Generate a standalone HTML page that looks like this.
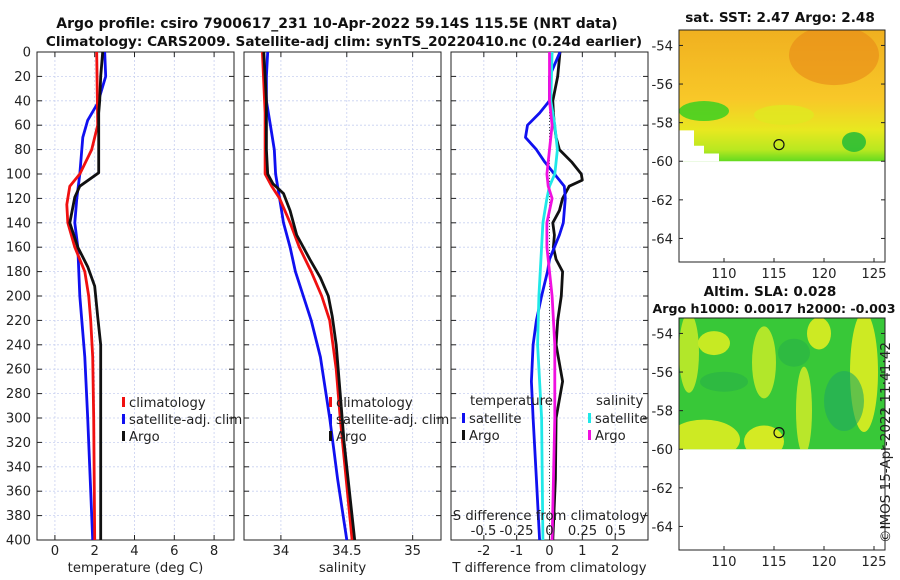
<!DOCTYPE html>
<html><head><meta charset="utf-8"><style>
body{margin:0;background:#fff;}
svg{display:block;font-family:"DejaVu Sans","Liberation Sans",sans-serif;}
.t{font-size:13.2px;fill:#222;}
.b{font-weight:bold;font-size:13.6px;fill:#111;}
</style></head><body>
<svg id="c" width="900" height="580" viewBox="0 0 900 580">
<text class="b" x="337" y="28" text-anchor="middle" style="font-size:14px">Argo profile: csiro 7900617_231 10-Apr-2022 59.14S 115.5E (NRT data)</text>
<text class="b" x="344" y="46" text-anchor="middle">Climatology: CARS2009. Satellite-adj clim: synTS_20220410.nc (0.24d earlier)</text>
<g id="panels"></g>
<g id="maps"></g>
<text class="t" x="0" y="0" transform="translate(890,543) rotate(-90)" style="font-size:13.5px">©IMOS 15-Apr-2022 11:41:42</text>
</svg>
<script>
// depths (m)
const depthsT = [0,20,40,50,60,80,99,110,119,140,160,176,192,217,240,300,400];
const argoT   = [2.4,2.3,2.25,2.2,2.2,2.2,2.2,1.25,1.0,0.75,1.15,1.65,2.0,2.15,2.3,2.3,2.3];
const climDepths=[0,60,80,100,110,125,140,160,180,200,220,250,300,400];
const climT   = [2.1,2.15,1.85,1.25,0.75,0.6,0.65,1.0,1.5,1.7,1.8,1.9,1.95,2.0];
const satDepths=[0,20,42,56,70,80,100,120,140,160,200,250,300,400];
const satT    = [2.5,2.55,2.15,1.65,1.4,1.35,1.25,1.1,1.0,1.15,1.25,1.5,1.65,1.9];

const salDepths=[0,40,80,100,108,116,130,150,170,185,200,217,240,280,320,360,400];
const argoS = [33.87,33.89,33.89,33.9,33.94,34.02,34.07,34.12,34.22,34.3,34.36,34.39,34.42,34.45,34.48,34.52,34.56];
const climSDepths=[0,50,100,110,120,140,160,180,200,220,260,300,400];
const climS = [33.86,33.88,33.88,33.93,33.99,34.07,34.14,34.23,34.31,34.37,34.42,34.45,34.54];
const satSDepths=[0,20,40,60,80,100,120,140,160,180,200,220,250,300,350,400];
const satS  = [33.9,33.89,33.89,33.92,33.95,33.96,33.99,34.02,34.07,34.11,34.17,34.23,34.3,34.37,34.43,34.5];

const dDepths=[0,20,40,50,60,70,80,90,100,105,110,120,130,140,150,160,170,180,200,220,240,270,300,350,400];
const dArgoT=[0.32,0.25,0.1,0.12,0.15,0.2,0.3,0.67,0.97,1.0,0.6,0.4,0.3,0.1,0.15,0.12,0.2,0.4,0.36,0.25,0.2,0.4,0.2,0.18,0.1];
const dSatT =[0.32,0.0,0.0,-0.3,-0.67,-0.73,-0.4,-0.15,0.15,0.3,0.45,0.48,0.45,0.42,0.3,0.15,0.0,-0.06,-0.24,-0.4,-0.5,-0.55,-0.5,-0.4,-0.3];
const sDepths=[0,40,60,80,100,110,120,140,160,200,240,300,400];
const dSatS =[0.02,0.01,0.04,0.06,0.04,0.0,-0.02,-0.05,-0.06,-0.08,-0.09,-0.06,-0.05];
const dArgoS=[0.0,0.0,0.02,0.0,-0.02,-0.01,0.02,-0.02,-0.02,0.02,0.04,0.04,0.02];

const depthTicks=[0,20,40,60,80,100,120,140,160,180,200,220,240,260,280,300,320,340,360,380,400];
const tTicks=[0,2,4,6,8], sTicks=[34,34.5,35], dTicks=[-2,-1,0,1,2];
const dTickLabels=["-2","-1","0","1","2"];
const sdTickLabels=["-0.5","-0.25","0","0.25","0.5"];

const NS="http://www.w3.org/2000/svg";
const P=document.getElementById('panels');
function mk(tag,at,parent){const e=document.createElementNS(NS,tag);for(const k in at)e.setAttribute(k,at[k]);(parent||P).appendChild(e);return e;}
const Y0=52,Y1=540;
const yD=d=>Y0+(d/400)*(Y1-Y0);
function axis(x0,x1,lo,hi){return v=>x0+(v-lo)/(hi-lo)*(x1-x0);}
const panels=[
 {x0:37,x1:234,lo:-0.9,hi:9,ticks:tTicks,labels:tTicks.map(String),name:'temperature-panel',xl:'temperature (deg C)'},
 {x0:244,x1:441,lo:33.72,hi:35.215,ticks:sTicks,labels:["34","34.5","35"],name:'salinity-panel',xl:'salinity'},
 {x0:451,x1:648,lo:-3,hi:3,ticks:dTicks,labels:dTickLabels,name:'difference-panel',xl:'T difference from climatology'}];
panels.forEach((p,i)=>{
  p.sx=axis(p.x0,p.x1,p.lo,p.hi);
  const g=mk('g',{});
  
  
  depthTicks.forEach(d=>{const l=mk('line',{x1:p.x0,x2:p.x1,y1:yD(d),y2:yD(d),stroke:'#c8d0f0','stroke-width':0.8,'stroke-dasharray':'2,2'},g);
    
    mk('line',{x1:p.x0,x2:p.x0+5,y1:yD(d),y2:yD(d),stroke:'#222'},g);mk('line',{x1:p.x1,x2:p.x1-5,y1:yD(d),y2:yD(d),stroke:'#222'},g);
    if(i==0){const t=mk('text',{x:31,y:yD(d)+4.5,'text-anchor':'end',class:'t'},g);t.textContent=d;
      }});
  p.ticks.forEach((v,k)=>{const x=p.sx(v);
    const l=mk('line',{x1:x,x2:x,y1:Y0,y2:Y1,stroke:'#c8d0f0','stroke-width':0.8,'stroke-dasharray':'2,2'},g);
    
    mk('line',{x1:x,x2:x,y1:Y1,y2:Y1-5,stroke:'#222'},g);mk('line',{x1:x,x2:x,y1:Y0,y2:Y0+5,stroke:'#222'},g);
    const t=mk('text',{x:x,y:555,'text-anchor':'middle',class:'t'},g);t.textContent=p.labels[k];
    });
  mk('rect',{x:p.x0,y:Y0,width:p.x1-p.x0,height:Y1-Y0,fill:'none',stroke:'#222','stroke-width':1},g);
  const xl=mk('text',{x:(p.x0+p.x1)/2,y:572,'text-anchor':'middle',class:'t'},g);xl.textContent=p.xl;
  
  p.g=g;
});
function line(p,depths,vals,color,name,sc){
  const f=sc||p.sx;
  const pts=depths.map((d,i)=>f(vals[i]).toFixed(1)+','+yD(d).toFixed(1)).join(' ');
  const e=mk('polyline',{points:pts,fill:'none',stroke:color,'stroke-width':2.8,'stroke-linejoin':'round'},p.g);
  
  
}
const [p1,p2,p3]=panels;
line(p1,satDepths,satT,'#1010f0','satellite-temperature-line');
line(p1,climDepths,climT,'#f01010','climatology-temperature-line');
line(p1,depthsT,argoT,'#111','argo-temperature-line');
line(p2,satSDepths,satS,'#1010f0','satellite-salinity-line');
line(p2,climSDepths,climS,'#f01010','climatology-salinity-line');
line(p2,salDepths,argoS,'#111','argo-salinity-line');
const zl=mk('line',{x1:p3.sx(0),x2:p3.sx(0),y1:Y0,y2:Y1,stroke:'#444','stroke-dasharray':'1,2'},p3.g);

const sdScale=v=>p3.sx(0)+v*132;
line(p3,dDepths,dArgoT,'#111','argo-temp-diff-line');
line(p3,dDepths,dSatT,'#1010f0','satellite-temp-diff-line');
line(p3,sDepths,dSatS,'#20e8e8','satellite-sal-diff-line',sdScale);
line(p3,sDepths,dArgoS,'#f010e0','argo-sal-diff-line',sdScale);
const st=mk('text',{x:550,y:520,'text-anchor':'middle',class:'t'},p3.g);st.textContent='S difference from climatology';

[-0.5,-0.25,0,0.25,0.5].forEach((v,k)=>{const t=mk('text',{x:sdScale(v),y:535,'text-anchor':'middle',class:'t'},p3.g);t.textContent=sdTickLabels[k];
  });
function legend(g,x,y,items){items.forEach((it,k)=>{const yy=y+k*17;
  mk('rect',{x:x,y:yy-8,width:3,height:10,fill:it[1]},g);
  const t=mk('text',{x:x+7,y:yy+2,class:'t'},g);t.textContent=it[0];
  });}
legend(p1.g,122,405,[['climatology','#f01010'],['satellite-adj. clim','#1010f0'],['Argo','#111']]);
legend(p2.g,329,405,[['climatology','#f01010'],['satellite-adj. clim','#1010f0'],['Argo','#111']]);
let t1=mk('text',{x:470,y:405,class:'t'},p3.g);t1.textContent='temperature';
let t2=mk('text',{x:596,y:405,class:'t'},p3.g);t2.textContent='salinity';
legend(p3.g,462,421,[['satellite','#1010f0'],['Argo','#111']]);
legend(p3.g,588,421,[['satellite','#20e8e8'],['Argo','#f010e0']]);

const M=document.getElementById('maps');
const lonTicks=[110,115,120,125], latTicks=[-54,-56,-58,-60,-62,-64];
function map(y0,name,titles,draw){
  const g=mk('g',{},M);
  const x0=679,x1=885,y1=y0+232;
  const lx=v=>x0+(v-105.5)*10, ly=v=>y0+(-53.2-v)*19.3;
  const cl=mk('clipPath',{id:name+'c'},g);mk('rect',{x:x0,y:y0,width:x1-x0,height:ly(-60)-y0},cl);
  const ig=mk('g',{'clip-path':'url(#'+name+'c)'},g);draw(ig,lx,ly,x0,x1,y0);
  mk('rect',{x:x0,y:y0,width:x1-x0,height:y1-y0,fill:'none',stroke:'#222'},g);
  lonTicks.forEach(v=>{mk('line',{x1:lx(v),x2:lx(v),y1:y1,y2:y1-4,stroke:'#222'},g);
    const t=mk('text',{x:lx(v),y:y1+16,'text-anchor':'middle',class:'t'},g);t.textContent=v;});
  latTicks.forEach(v=>{mk('line',{x1:x0,x2:x0+4,y1:ly(v),y2:ly(v),stroke:'#222'},g);mk('line',{x1:x1,x2:x1-4,y1:ly(v),y2:ly(v),stroke:'#222'},g);
    const t=mk('text',{x:673,y:ly(v)+5,'text-anchor':'end',class:'t'},g);t.textContent=v;});
  const c=mk('circle',{cx:lx(115.5),cy:ly(-59.14),r:5,fill:'none',stroke:'#111','stroke-width':1.2},g);
  
  titles.forEach(s=>{const t=mk('text',{x:s[1],y:s[2],'text-anchor':'middle',class:'b',style:'font-size:'+s[3]+'px'},g);t.textContent=s[0];});
}
map(30,'sst-map',[['sat. SST: 2.47 Argo: 2.48',780,22,13.6]],(g,lx,ly,x0,x1,y0)=>{
  const gr=mk('linearGradient',{id:'sg',x1:0,y1:0,x2:0,y2:1},g);
  [[0,'#f0b020'],[0.35,'#f8c828'],[0.5,'#e8e820'],[0.6,'#b8e820'],[0.7,'#20d020'],[1,'#10c820']].forEach(s=>mk('stop',{offset:s[0],'stop-color':s[1]},gr));
  mk('rect',{x:x0,y:y0,width:x1-x0,height:200,fill:'url(#sg)'},g);
  mk('ellipse',{cx:lx(121),cy:ly(-54.5),rx:45,ry:30,fill:'#e88818',opacity:0.6},g);
  mk('ellipse',{cx:lx(108),cy:ly(-57.4),rx:25,ry:10,fill:'#30d020',opacity:0.8},g);
  mk('ellipse',{cx:lx(116),cy:ly(-57.6),rx:30,ry:10,fill:'#e0e820',opacity:0.8},g);
  mk('ellipse',{cx:lx(123),cy:ly(-59),rx:12,ry:10,fill:'#18b838',opacity:0.8},g);
  mk('polygon',{points:`${x0},${ly(-58.4)} ${lx(107)},${ly(-58.4)} ${lx(107)},${ly(-59.2)} ${lx(108)},${ly(-59.2)} ${lx(108)},${ly(-59.6)} ${lx(109.5)},${ly(-59.6)} ${lx(109.5)},${ly(-60.2)} ${x0},${ly(-60.2)}`,fill:'#fff'},g);
});
map(318,'sla-map',[['Altim. SLA: 0.028',770,296,13.6],['Argo h1000: 0.0017 h2000: -0.003',774,313,12.6]],(g,lx,ly,x0,x1,y0)=>{
  mk('rect',{x:x0,y:y0,width:x1-x0,height:200,fill:'#38c838'},g);
  [[109,-54.5,8,6,'#e0f020'],[106.5,-55,5,20,'#c8ec28'],[114,-55.5,6,18,'#c8ec28'],[124,-56,7,30,'#e8f020'],[108,-59.5,18,10,'#e8f020'],[114,-59.6,10,8,'#f0f020'],[118,-58,4,22,'#d0ec28'],[119.5,-54,6,8,'#e8f020']].forEach(b=>mk('ellipse',{cx:lx(b[0]),cy:ly(b[1]),rx:b[2]*2,ry:b[3]*2,fill:b[4],opacity:0.85},g));
  [[122,-57.5,10,30,'#20a860'],[110,-56.5,12,10,'#28b048'],[117,-55,8,14,'#28b048']].forEach(b=>mk('ellipse',{cx:lx(b[0]),cy:ly(b[1]),rx:b[2]*2,ry:b[3],fill:b[4],opacity:0.6},g));
});
</script>
</body></html>
